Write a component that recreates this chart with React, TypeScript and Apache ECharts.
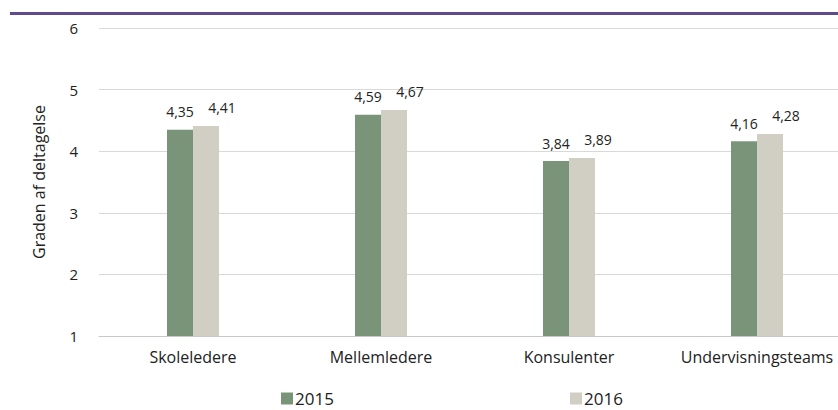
import React, { useEffect, useRef } from "react";
import * as echarts from "echarts";

const categories = ["Skoleledere", "Mellemledere", "Konsulenter", "Undervisningsteams"];
const values2015 = [4.35, 4.59, 3.84, 4.16];
const values2016 = [4.41, 4.67, 3.89, 4.28];
const seriesNames = ["2015", "2016"];
const yTicks = [1, 2, 3, 4, 5, 6];

const FONT = "'Open Sans', 'Noto Sans', sans-serif";

export default function App() {
  const ref = useRef<HTMLDivElement>(null);
  useEffect(() => {
    if (!ref.current) return;
    const chart = echarts.init(ref.current, undefined, { renderer: "svg" });
    const fmt = (p: any) => String(p.value.toFixed(2)).replace(".", ",");
    const legendCommon = {
      top: 390,
      padding: 0,
      icon: "rect",
      itemWidth: 12,
      itemHeight: 12,
      itemGap: 0,
      textStyle: { fontSize: 17, lineHeight: 17, color: "#222", fontFamily: FONT, padding: [0, 0, 0, -3] },
    };
    const labelCommon = {
      show: true,
      position: "top",
      distance: 11,
      fontSize: 14,
      color: "#222",
      fontFamily: FONT,
      formatter: fmt,
    };
    chart.setOption({
      animation: false,
      textStyle: { fontFamily: FONT },
      graphic: [
        {
          type: "rect",
          shape: { x: 10, y: 12, width: 900, height: 3 },
          style: { fill: "#5f4b8b" },
        },
      ],
      legend: [
        { ...legendCommon, left: 281, data: [seriesNames[0]] },
        { ...legendCommon, left: 570, data: [seriesNames[1]] },
      ],
      grid: { left: 99, top: 28, width: 752, bottom: 74, containLabel: false },
      xAxis: {
        type: "category",
        data: categories,
        axisTick: { show: false },
        axisLine: { lineStyle: { color: "#c8c8c8", width: 1 } },
        axisLabel: { fontSize: 16, color: "#222", margin: 13, interval: 0, fontFamily: FONT },
      },
      yAxis: {
        type: "value",
        min: 1,
        max: 6,
        interval: 1,
        name: "Graden af deltagelse",
        nameLocation: "middle",
        nameGap: 52,
        nameTextStyle: { fontSize: 16, color: "#222", fontFamily: FONT },
        axisLine: { show: false },
        axisTick: { show: false },
        axisLabel: {
          fontSize: 15,
          color: "#222",
          margin: 21,
          fontFamily: FONT,
          formatter: (v: number) => (yTicks.includes(v) ? String(v) : ""),
        },
        splitLine: { lineStyle: { color: "#d9d9d9", width: 1 } },
      },
      series: [
        {
          name: seriesNames[0],
          type: "bar",
          data: values2015,
          barWidth: 26,
          barGap: "0%",
          itemStyle: { color: "#7a9479" },
          label: labelCommon,
        },
        {
          name: seriesNames[1],
          type: "bar",
          data: values2016,
          barWidth: 26,
          barGap: "0%",
          itemStyle: { color: "#d1cec4" },
          label: { ...labelCommon, offset: [16, 0] },
        },
      ],
    });
    return () => chart.dispose();
  }, []);
  return (
    <div style={{ position: "fixed", left: 0, top: 0, width: 838, height: 410, overflow: "hidden", background: "#fff" }}>
      <div ref={ref} style={{ width: 900, height: 410 }} />
    </div>
  );
}
